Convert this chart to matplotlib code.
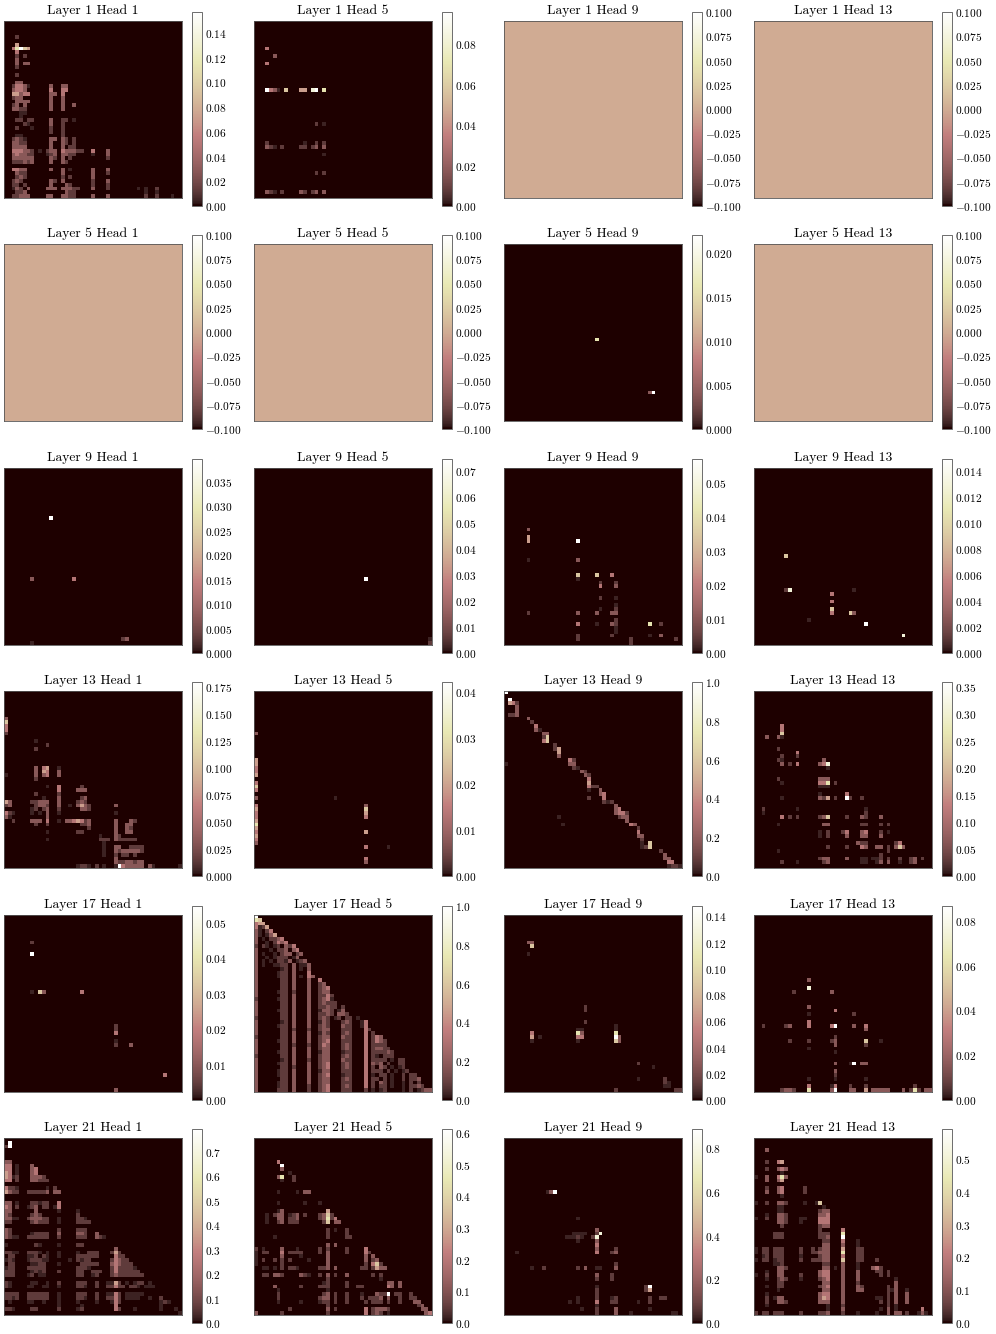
import numpy as np
import matplotlib
matplotlib.use('Agg')
import matplotlib.pyplot as plt

plt.rcParams['font.family'] = ['cmr10', 'DejaVu Serif']
plt.rcParams['mathtext.fontset'] = 'cm'
plt.rcParams['axes.formatter.use_mathtext'] = True
plt.rcParams['axes.unicode_minus'] = True

layers = [1, 5, 9, 13, 17, 21]
heads = [1, 5, 9, 13]
n_cells = 47

vmax = [
    [0.157, 0.096, None, None],
    [None, None, 0.022, None],
    [0.0397, 0.0746, 0.057, 0.0149],
    [0.1796, 0.0422, 1.0, 0.359],
    [0.0548, 1.0, 0.148, 0.0867],
    [0.794, 0.6126, 0.887, 0.591],
]

# share of the colorbar for each level used below
level_share = [0, 0.03, 0.085, 0.18, 0.32, 0.46, 0.6, 0.72, 0.86, 1]

# cell runs: (row, first column, levels), level 9 = top of the colorbar, space = 0
L1_H1 = [
    (4, 3, "2"), (6, 3, "5"), (7, 2, "47965"), (8, 3, "4"), (9, 3, "2 2"), (10, 3, "3"), (11, 3, "3 33"),
    (12, 3, "2"), (14, 3, "2"), (16, 3, "33"), (17, 2, "24431"), (17, 12, "3"), (17, 15, "33"),
    (18, 2, "3443"), (18, 12, "4"), (18, 15, "44"), (19, 2, "55344"), (19, 12, "33"), (19, 15, "4"),
    (20, 2, "233"), (20, 12, "3"), (20, 15, "3"), (21, 3, "3333"), (21, 12, "3"), (21, 15, "3"),
    (22, 2, "23 3"), (22, 12, "3"), (22, 15, "3"), (22, 18, "3"), (23, 2, "3322"), (23, 12, "3"), (23, 15, "3"),
    (24, 4, "11"), (25, 4, "1"), (26, 3, "22 22"), (26, 12, "3"), (26, 15, "22 1"), (27, 5, "21"), (27, 12, "3"),
    (27, 15, "2"), (28, 3, "2"), (28, 7, "1"), (28, 12, "2"), (28, 15, "2"), (29, 12, "2"), (29, 15, "2"),
    (30, 3, "11"), (30, 15, "2"), (31, 2, "2321"), (31, 12, "33"), (31, 15, "32 2"),
    (32, 2, "3322"), (32, 12, "3"), (32, 15, "32 2"), (33, 2, "3333"), (33, 12, "3"), (33, 15, "3 22"),
    (34, 2, "444332"), (34, 9, "1"), (34, 11, "233"), (34, 15, "433322"), (34, 23, "4"), (34, 27, "3"),
    (35, 2, "343322"), (35, 11, "123"), (35, 15, "3322"), (35, 23, "1"), (35, 27, "3"),
    (36, 2, "333333"), (36, 12, "32"), (36, 15, "3 2"), (36, 27, "2"),
    (37, 2, "222323"), (37, 12, "3"), (37, 15, "32"),
    (39, 2, "4433"), (39, 12, "3"), (39, 15, "3 1"), (39, 23, "3"), (39, 27, "3"),
    (40, 3, "322"), (40, 15, "3"), (40, 23, "3"), (40, 27, "2"),
    (41, 3, "232"), (41, 15, "2 2"), (41, 23, "3"),
    (42, 2, "232"), (42, 12, "32"), (42, 15, "3"), (42, 23, "2"), (42, 27, "3"),
    (43, 2, "22 2"), (43, 12, "3"), (43, 16, "32"), (43, 23, "2"), (43, 27, "2"),
    (44, 2, "132 3"), (44, 11, "333"), (44, 15, "33322"), (44, 23, "3"), (44, 27, "2"), (44, 35, "1 1  2"),
    (45, 3, "223"), (45, 16, "322"), (45, 37, "1"), (45, 40, "1"),
    (46, 2, "22333"), (46, 11, "33"), (46, 15, "3322"), (46, 23, "3"), (46, 27, "3"), (46, 37, "2"), (46, 40, "2"), (46, 44, "1"),
]
L1_H5 = [
    (7, 3, "4"), (9, 5, "3"), (11, 3, "4"), (18, 3, "9431 6"), (18, 12, "55"), (18, 15, "89"), (18, 18, "7"),
    (27, 16, "2 1"), (32, 3, "2"), (32, 13, "1"), (32, 16, "2 2"), (33, 3, "321 2"), (33, 12, "22"), (33, 15, "23"),
    (33, 18, "3"), (35, 18, "1"), (40, 16, "2 2"), (45, 3, "321 2"), (45, 12, "32"), (45, 15, "23"), (45, 18, "3"),
]
L5_H9 = [(25, 24, "7"), (39, 38, "39")]
L9_H1 = [(13, 12, "9"), (29, 7, "3"), (29, 18, "4"), (46, 7, "1"), (45, 31, "23")]
L9_H5 = [(29, 29, "9"), (45, 46, "1"), (46, 46, "2")]
L9_H9 = [
    (16, 6, "3"), (18, 6, "5"), (19, 6, "5"), (19, 19, "9"), (24, 6, "1"), (24, 19, "3"), (28, 19, "6"), (28, 24, "6"),
    (28, 28, "4"), (29, 19, "1"), (30, 25, "2"), (30, 29, "2"), (31, 25, "4"), (31, 29, "3"), (34, 25, "2"), (34, 29, "1"),
    (36, 29, "1"), (37, 25, "1"), (37, 29, "2"), (38, 6, "2"), (38, 19, "3"), (38, 24, "3"), (38, 28, "33"),
    (40, 29, "2"), (41, 19, "4"), (41, 24, "1"), (41, 28, "32"), (41, 38, "7"), (41, 41, "2"), (42, 29, "1"), (43, 29, "1"),
    (44, 19, "2"), (44, 28, "2"), (44, 38, "1"), (44, 41, "3"), (45, 19, "2"), (45, 33, "2"), (45, 45, "2"), (46, 33, "2"),
]
L9_H13 = [
    (23, 8, "6"), (32, 8, "28"), (32, 26, "1"), (33, 20, "4"), (35, 20, "4"), (37, 20, "6"), (38, 20, "4"),
    (38, 25, "63"), (40, 14, "1"), (41, 29, "9"), (44, 39, "8"),
]
L13_H1 = [
    (7, 0, "3"), (8, 0, "6"), (9, 0, "4"), (10, 0, "4"), (11, 0, "2"), (13, 8, "1"), (14, 11, "2"), (15, 8, "2"),
    (20, 8, "3 45"), (20, 14, "1"), (21, 8, "3 54"), (21, 14, "3"), (22, 0, "1"), (22, 8, "3 34"), (22, 14, "3"), (23, 8, "2"),
    (25, 11, "1"), (25, 14, "4"), (25, 20, "2"), (26, 14, "4"), (26, 19, "333"), (27, 8, "2"), (27, 14, "2"),
    (28, 10, "1"), (28, 14, "3"), (28, 20, "23"), (29, 0, "53"), (29, 7, "22333"), (29, 14, "3"), (29, 19, "232"),
    (30, 0, "23"), (30, 8, "2332"), (30, 14, "3"), (30, 17, "1 3532"), (30, 29, "3"),
    (31, 7, "12 23"), (31, 14, "2"), (31, 20, "332"), (32, 0, "421"), (32, 7, "1 1 3"), (32, 14, "1"), (32, 29, "1"),
    (33, 0, "31"), (33, 11, "3"), (34, 2, "2"), (34, 7, "333 4"), (34, 14, "1"), (34, 16, "3345423"), (34, 29, "3"), (34, 33, "32"),
    (35, 8, "2  2"), (35, 20, "223"), (35, 29, "3"), (35, 32, "33"), (36, 22, "2"), (36, 29, "3"), (36, 32, "32"),
    (37, 11, "1"), (37, 19, "22"), (37, 29, "3"), (37, 32, "33"), (38, 25, "1"), (38, 29, "32"),
    (39, 11, "1"), (39, 25, "222 322222"), (40, 26, "1"), (41, 26, "1"), (41, 29, "33  2222"),
    (42, 26, "1"), (42, 29, "32333332"), (43, 26, "1"), (43, 29, "2 22 2"), (44, 29, "3"), (45, 29, "32233233"),
    (46, 19, "1221 2 1  19433333 3"), (46, 39, "1"), (46, 46, "1"),
]
L13_H5 = [
    (11, 0, "3"), (18, 0, "5"), (19, 0, "5"), (20, 0, "4"), (21, 0, "4"), (22, 0, "5"), (24, 0, "4"), (25, 0, "6"),
    (26, 0, "4"), (28, 0, "3"), (28, 21, "1"), (30, 0, "4"), (30, 29, "3"), (31, 0, "5"), (31, 29, "6"), (32, 0, "4"),
    (32, 29, "5"), (33, 0, "4"), (33, 29, "4"), (34, 0, "5"), (35, 0, "7"), (36, 0, "5"), (37, 0, "4"), (37, 29, "5"),
    (38, 0, "5"), (39, 0, "4"), (40, 0, "3"), (41, 29, "4"), (41, 35, "1"), (44, 29, "4"), (45, 29, "3"),
]
L13_H9 = [
    (0, 0, "9"), (2, 1, "9"), (3, 1, "542"), (4, 3, "3"), (5, 3, "3"), (6, 1, "223"), (7, 6, "3"), (8, 7, "2"),
    (9, 8, "4"), (10, 8, "31"), (11, 10, "33"), (12, 10, "26"), (13, 10, "46"), (14, 13, "2"), (15, 13, "25"),
    (16, 14, "5"), (17, 14, "3"), (18, 17, "42"), (19, 0, "1"), (19, 17, "33"), (20, 18, "21"), (21, 20, "32"),
    (22, 21, "32"), (23, 22, "4"), (24, 22, "5"), (25, 22, "422"), (26, 22, "1  3"), (27, 25, "34"), (28, 22, "2"),
    (28, 26, "4"), (29, 26, "212"), (30, 29, "3"), (31, 29, "34"), (32, 29, "3442"), (33, 14, "1"), (33, 30, "233"),
    (34, 32, "3"), (35, 15, "1"), (35, 33, "43"), (36, 35, "2"), (37, 35, "4"), (38, 35, "33"), (39, 36, "2"),
    (40, 36, "1 6"), (41, 36, "126"), (42, 41, "2"), (43, 42, "3"), (44, 42, "33"), (45, 43, "44"), (46, 43, "1221"),
]
L13_H13 = [
    (9, 7, "4"), (10, 7, "4"), (11, 7, "6"), (12, 3, "3  31"), (15, 6, "2"), (16, 11, "4"), (17, 7, "2"), (17, 11, "2"),
    (18, 6, "21"), (18, 18, "3"), (19, 7, "3 2 4"), (19, 17, "348"), (20, 19, "1"), (23, 6, "2"), (23, 17, "333"),
    (24, 7, "1"), (24, 17, "447"), (24, 21, "2"), (25, 17, "111"), (27, 17, "1"), (27, 24, "4"),
    (28, 7, "1"), (28, 17, "325"), (28, 21, "2"), (28, 24, "92"), (28, 28, "2"), (31, 2, "2"), (31, 11, "1"), (31, 29, "1"),
    (32, 2, "1"), (32, 29, "2"), (33, 7, "4 2 2"), (33, 17, "236"), (33, 24, "2"), (33, 28, "32"), (33, 33, "3"),
    (35, 6, "1"), (35, 18, "33"), (35, 28, "22"), (35, 33, "2 2"), (37, 17, "1 2"), (37, 23, "24"), (37, 28, "34"),
    (37, 33, "2 1"), (38, 17, "1 2"), (38, 24, "3"), (38, 28, "33"), (38, 33, "3"), (40, 27, "322"), (40, 37, "24"),
    (41, 19, "2"), (41, 24, "2"), (41, 28, "43"), (41, 32, "33 2"), (41, 37, "363"), (42, 6, "1"), (42, 35, "2"), (43, 33, "2"),
    (44, 17, "233"), (44, 24, "3"), (44, 28, "11"), (44, 31, "112 2"), (44, 38, "2"), (44, 41, "23 2"),
    (45, 7, "2"), (45, 11, "1"), (45, 18, "23"), (45, 28, "11"), (45, 32, "13 3"), (45, 38, "1"), (45, 41, "23"),
]
L17_H1 = [
    (7, 7, "2"), (10, 7, "9"), (20, 7, "1 63"), (20, 20, "4"), (29, 29, "2"), (30, 29, "2"), (31, 29, "4"), (33, 29, "1"),
    (34, 29, "2"), (34, 33, "3"), (42, 42, "4"), (46, 29, "3"),
]
L17_H5 = [
    (0, 0, "9"), (1, 0, "76"), (2, 0, "455"), (3, 0, "4125"), (4, 0, "31 24"), (5, 0, "31 135"), (6, 0, "3 1 2234"),
    (7, 0, "3  1 2434"), (8, 0, "2 21 12 324"), (9, 0, "3   1 223 34"), (10, 0, "3 1  1 233 23"), (11, 0, "3  1 1222 13"),
    (12, 0, "3 1 1 2213 123"), (13, 0, "3 1  1122 3 113"), (14, 0, "3      12 3 1 3"), (15, 0, "3     122 3   4"),
    (16, 0, "3     122 3 1 43"), (17, 0, "3      22 3   3  4"), (18, 0, "3      22 3   3  23"), (19, 0, "3      22 3   3  234"),
    (20, 0, "3     122 2   3  233"), (21, 0, "3      22 3   3  2242"), (22, 0, "2     122 3   3  2341"),
    (23, 0, "3      22 3   3  23222"), (24, 0, "3      22 3   3  22322 2"), (25, 0, "3     122 3   3  1332 13"),
    (26, 0, "3      22 3   3  2232 332"), (27, 0, "2      22 3   3  232 12 22 1"),
    (28, 0, "3      12 3   3"), (28, 17, "132"), (28, 23, "232"), (28, 28, "14"),
    (29, 0, "3     122 3   3"), (29, 17, "232"), (29, 23, "322"), (29, 28, "14"),
    (30, 0, "3      22 2   2"), (30, 17, "233"), (30, 23, "222"), (30, 29, "42"),
    (31, 0, "3      22 3   3"), (31, 17, "132"), (31, 23, "232"), (31, 29, "4 2"),
    (32, 0, "2      22 3   3"), (32, 17, "233"), (32, 23, "322"), (32, 29, "4 243"),
    (33, 0, "3     122 3   3"), (33, 17, "234"), (33, 23, "222"), (33, 29, "4 2432"),
    (34, 0, "3      22 2   2"), (34, 17, "243"), (34, 23, "232"), (34, 29, "4 2222"),
    (35, 0, "3      22 3   3"), (35, 17, "233"), (35, 23, "232"), (35, 29, "4 23322"),
    (36, 0, "3     122 3   3"), (36, 17, "133"), (36, 23, "122"), (36, 29, "4 222232"),
    (37, 0, "2      22 3   3"), (37, 17, "233"), (37, 23, "232"), (37, 29, "4 21 222"),
    (38, 0, "3      12 3   2"), (38, 17, "233"), (38, 23, "322"), (38, 29, "4 2222 1 22"),
    (39, 0, "3     122 3   3"), (39, 17, "234"), (39, 23, "232"), (39, 29, "4 323 2  22"),
    (40, 0, "3      22 2   3"), (40, 17, "234"), (40, 23, "232"), (40, 29, "4 2 32 1 12"),
    (41, 0, "3     122 3   3"), (41, 17, "133"), (41, 23, "222"), (41, 29, "4 222 2 1 12"),
    (42, 0, "3     122 3   3"), (42, 17, "234"), (42, 23, "122"), (42, 29, "4 1 22 1  2 22"),
    (43, 0, "3      22 3   3"), (43, 17, "233"), (43, 23, "232"), (43, 29, "4 22 2 1  2 223"),
    (44, 0, "3     122 3   3"), (44, 17, "233"), (44, 23, "222"), (44, 29, "4 2 32 1  1 2 2"),
    (45, 0, "3     122 3   2"), (45, 17, "234"), (45, 23, "232"), (45, 29, "4 2 22 1  1 2232"),
    (46, 0, "3     222 3   2"), (46, 17, "234"), (46, 23, "222"), (46, 29, "2 1 12    1 2 1233"),
]
L17_H9 = [
    (7, 6, "33"), (8, 7, "6"), (10, 6, "1"), (24, 21, "2"), (25, 21, "2"), (28, 21, "2"), (29, 29, "1"), (30, 19, "11"),
    (30, 29, "1"), (31, 7, "4"), (31, 19, "73"), (31, 29, "7"), (32, 7, "5 1"), (32, 19, "44"), (32, 29, "93"), (33, 7, "1"),
    (33, 19, "1"), (33, 29, "63"), (39, 35, "2"), (40, 39, "1"), (43, 35, "1"), (43, 42, "2"), (44, 42, "21"), (45, 42, "11"),
    (46, 29, "2"), (46, 45, "22"),
]
L17_H13 = [
    (17, 14, "3"), (19, 14, "8"), (20, 10, "2"), (20, 20, "3"), (24, 14, "3"), (25, 21, "4"), (26, 14, "1"), (26, 26, "2"),
    (28, 14, "4"), (29, 2, "2"), (29, 8, "23"), (29, 14, "4"), (29, 20, "49"), (29, 26, "3"), (29, 29, "4"), (30, 29, "3"),
    (32, 21, "2"), (33, 9, "2"), (33, 14, "2"), (33, 20, "23"), (33, 29, "6"), (33, 33, "1"), (34, 21, "3"), (34, 29, "2"),
    (35, 14, "1"), (36, 21, "1"), (39, 21, "3"), (39, 25, "19 33"), (41, 21, "3"), (42, 21, "2"), (43, 14, "1"), (43, 21, "1"),
    (43, 29, "1"), (45, 14, "4"), (45, 20, "14"), (45, 25, "2"), (45, 29, "2"), (45, 42, "2"),
    (46, 7, "2332"), (46, 14, "7"), (46, 20, "39"), (46, 25, "33"), (46, 29, "5 33333"), (46, 39, "3 272"), (46, 45, "33"),
]
L21_H1 = [
    (1, 1, "9"), (2, 0, "29"), (6, 0, "33"), (7, 0, "44 1"), (7, 7, "3"), (8, 0, "44 1"), (8, 7, "34"), (9, 0, "54 1"), (9, 7, "34"),
    (10, 0, "5412"), (10, 7, "3332"), (11, 0, "44 2"), (11, 7, "33222"), (13, 0, "4221"), (13, 11, "1 2"),
    (14, 0, "5322"), (14, 6, "222223"), (14, 13, "33"), (17, 0, "33 1"), (17, 7, "221"), (17, 10, "22"), (17, 14, "4"),
    (18, 0, "43 2"), (18, 6, "123"), (18, 10, "22"), (18, 13, "14"), (19, 0, "33"), (19, 8, "3"), (19, 14, "1"), (19, 19, "1"),
    (20, 0, "32"), (20, 7, "232"), (20, 19, "2"), (21, 0, "3311"), (21, 6, "233322"), (21, 14, "1"), (21, 19, "221"),
    (22, 0, "22"), (22, 7, "23222"), (22, 14, "1"), (22, 19, "2222"), (24, 0, "32"), (24, 14, "2"), (24, 19, "222"),
    (25, 0, "32"), (25, 7, "12222"), (25, 14, "3"), (25, 19, "332"), (25, 24, "3"),
    (26, 0, "3211"), (26, 6, "222222"), (26, 14, "2"), (26, 19, "222"), (26, 24, "321"),
    (28, 0, "1"), (28, 8, "21"), (28, 14, "1"), (28, 19, "22"), (29, 29, "3"),
    (30, 0, "2211"), (30, 6, "2221 1"), (30, 14, "1"), (30, 19, "1"), (30, 22, "222"), (30, 28, "252"),
    (31, 1, "22"), (31, 6, "112 21"), (31, 14, "1"), (31, 19, "222222"), (31, 29, "422"),
    (32, 0, "121"), (32, 6, "122211"), (32, 17, "1 2122"), (32, 28, "24322"),
    (33, 1, "22"), (33, 7, "1122"), (33, 14, "1"), (33, 20, "22222"), (33, 28, "343222"),
    (34, 0, "122"), (34, 6, "22222"), (34, 19, "2221"), (34, 28, "2422221"),
    (35, 0, "222"), (35, 7, "1212"), (35, 14, "2"), (35, 19, "22"), (35, 23, "222"), (35, 28, "24222222"),
    (36, 0, "222"), (36, 6, "12 11"), (36, 19, "22"), (36, 23, "12"), (36, 28, "232222222"),
    (38, 0, "21"), (38, 7, "11  1"), (38, 14, "2"), (38, 19, "222"), (38, 24, "2"), (38, 27, "1152 1 122 1"),
    (39, 0, "21"), (39, 6, "11  11"), (39, 14, "1"), (39, 19, "221"), (39, 24, "2"), (39, 27, "22422 221 111"),
    (41, 0, "2222"), (41, 6, "222222"), (41, 14, "1"), (41, 19, "222"), (41, 24, "2"), (41, 27, "1142 11111"),
    (42, 0, "2212"), (42, 6, "222222"), (42, 14, "1"), (42, 19, "221"), (42, 24, "2"), (42, 27, "2242 1111"), (42, 38, "1"), (42, 41, "2"),
    (43, 1, "1"), (43, 6, "11  1"), (43, 14, "1"), (43, 19, "1"), (43, 24, "1"), (43, 28, "142"), (43, 41, "121"),
    (44, 14, "1"), (44, 20, "1"), (44, 29, "4"), (44, 41, "1"),
    (45, 0, "221"), (45, 7, "22"), (45, 14, "2"), (45, 19, "12"), (45, 29, "42"), (45, 34, "1"), (45, 41, "1"), (45, 45, "1"),
    (46, 46, "1"),
]
L21_H5 = [
    (6, 6, "4"), (7, 7, "9"), (8, 7, "3"), (9, 9, "1"), (10, 6, "37"), (10, 10, "2"), (11, 7, "1"), (11, 10, "2"),
    (14, 6, "1"), (14, 11, "1 33"), (17, 6, "1"), (17, 13, "1"), (17, 17, "1"), (19, 6, "13"), (19, 19, "5"),
    (20, 3, "1 233 123 2"), (20, 17, "2362"), (21, 3, "1  33 223"), (21, 17, "23724"), (22, 3, "1  23 222"), (22, 18, "26 33"),
    (24, 19, "2 1  2"), (25, 19, "2"), (25, 24, "2"), (26, 5, "1"), (26, 19, "2"), (26, 24, "22"), (28, 19, "3 3"),
    (29, 0, "2 1"), (29, 7, "3"), (29, 11, "1"), (29, 17, "2 2"), (29, 24, "2"), (29, 29, "4"),
    (30, 0, "1 22"), (30, 7, "4 2222"), (30, 17, "2 3"), (30, 24, "2"), (30, 29, "42"), (31, 0, "1"), (31, 7, "3"), (31, 12, "1"),
    (31, 19, "3"), (31, 29, "3 3"), (32, 0, "1 2  2 2 2"), (32, 14, "1"), (32, 19, "3"), (32, 29, "3 23"),
    (33, 0, "1"), (33, 7, "2"), (33, 19, "3"), (33, 29, "2 462"),
    (34, 2, "11 1 2 221"), (34, 17, "223 3"), (34, 28, "22 2533"),
    (36, 2, "22 3"), (36, 5, "332"), (36, 12, "321"), (36, 17, "2 3 2"), (36, 24, "3"), (36, 31, "2 2"),
    (37, 19, "2"), (37, 33, "1"), (38, 18, "12"), (38, 24, "2"), (38, 35, "33 3"),
    (39, 5, "3"), (39, 12, "2"), (39, 17, "222"), (39, 24, "2"), (39, 27, "22"), (39, 35, "43 3"), (40, 6, "1"), (40, 19, "1"),
    (41, 6, "2"), (41, 18, "23 2"), (41, 24, "2"), (41, 28, "1"), (41, 32, "3229"), (41, 37, "22"), (41, 41, "2"),
    (42, 6, "2"), (42, 17, "233 2"), (42, 24, "2"), (42, 28, "2 2223"), (42, 35, "3"), (42, 38, "2"), (42, 41, "22"),
    (43, 6, "1"), (43, 12, "1"), (43, 17, "122 2"), (43, 24, "2"), (43, 29, "2 222 2"), (43, 38, "2"), (43, 42, "33"),
    (44, 19, "2"), (44, 43, "23"), (45, 9, "2"), (45, 19, "3 2"), (45, 29, "4 23332"), (45, 44, "33"),
    (46, 0, "3"), (46, 7, "2"), (46, 19, "2"), (46, 29, "4 232 1"), (46, 45, "34"),
]
L21_H9 = [
    (14, 11, "139"), (21, 19, "1"), (24, 24, "3"), (25, 18, "1111  28"), (26, 16, "11121"), (26, 23, "28"), (27, 19, "1"), (27, 24, "3"),
    (28, 24, "4"), (29, 24, "3"), (29, 29, "2"), (30, 3, "1"), (30, 24, "4"), (30, 28, "23"), (33, 29, "2"), (34, 7, "1  2"),
    (34, 19, "2 3  11"), (34, 29, "3"), (36, 24, "3"), (36, 28, "2"), (37, 24, "2"), (37, 28, "2"), (39, 24, "1"), (39, 37, "29"),
    (40, 24, "2"), (40, 37, "25"), (41, 24, "2"), (42, 19, "1"), (42, 24, "2"), (42, 28, "12"), (42, 38, "2"), (42, 41, "22"),
    (43, 17, "1 1"), (43, 24, "4"), (43, 28, "22"), (43, 35, "1"), (43, 38, "2"), (44, 24, "1"), (45, 20, "1"), (45, 24, "2"),
    (45, 29, "3"), (45, 38, "1"), (46, 24, "2"), (46, 29, "3"), (46, 33, "1"), (46, 44, "11"),
]
L21_H13 = [
    (3, 3, "3"), (6, 3, "2"), (6, 6, "45"), (8, 3, "2"), (8, 6, "343"), (9, 7, "1"), (10, 0, "1"), (10, 3, "3"), (10, 6, "473"),
    (11, 3, "3"), (11, 6, "35"), (13, 3, "2"), (13, 6, "34"), (13, 13, "2"), (14, 3, "3"), (14, 6, "34"), (14, 13, "2"), (15, 7, "1"),
    (17, 0, "1"), (17, 3, "2"), (17, 6, "332"), (17, 13, "1"), (17, 16, "16"), (18, 6, "11"), (18, 18, "1"), (19, 6, "11"), (19, 17, "233"),
    (20, 3, "1"), (20, 6, "332"), (20, 17, "334"), (21, 0, "1"), (21, 3, "2"), (21, 6, "332"), (21, 12, "11"), (21, 17, "444"),
    (22, 6, "332"), (22, 12, "1"), (22, 17, "444"), (23, 7, "2"), (23, 17, "233"), (24, 17, "2"), (24, 23, "4"),
    (25, 5, "222"), (25, 17, "222"), (25, 23, "7"), (26, 5, "222"), (26, 17, "223"), (26, 23, "9"), (27, 18, "22"), (27, 23, "4"), (27, 27, "1"),
    (28, 18, "33"), (28, 23, "3"), (28, 27, "1"), (29, 0, "1 22"), (29, 5, "222"), (29, 12, "2"), (29, 15, "2 233"), (29, 23, "5"), (29, 27, "22"),
    (30, 0, "1 22"), (30, 5, "222"), (30, 12, "2"), (30, 15, "22333"), (30, 23, "7"), (30, 27, "22"),
    (31, 2, "12"), (31, 5, "222"), (31, 12, "1"), (31, 17, "233"), (31, 23, "4"), (31, 27, "22"),
    (32, 0, "1 22"), (32, 5, "122"), (32, 12, "2"), (32, 15, "22233"), (32, 23, "6"), (32, 27, "22"), (32, 32, "2"),
    (33, 5, "112"), (33, 18, "22"), (33, 23, "3"), (33, 27, "1"), (34, 6, "332"), (34, 18, "33"), (34, 21, "1 3"), (34, 27, "1"), (34, 31, "342"),
    (35, 3, "1"), (35, 6, "33"), (35, 17, "344"), (35, 23, "3"), (35, 27, "3"), (35, 32, "22"), (35, 35, "2"),
    (36, 0, "1"), (36, 3, "2"), (36, 6, "33"), (36, 12, "2"), (36, 17, "344"), (36, 23, "3"), (36, 27, "3"), (36, 33, "2"), (36, 35, "2"),
    (37, 3, "1"), (37, 6, "232"), (37, 12, "1"), (37, 17, "234"), (37, 23, "3"), (37, 27, "3"), (37, 37, "1"),
    (38, 6, "22"), (38, 18, "33"), (38, 23, "3"), (38, 27, "2"), (38, 37, "3"),
    (39, 3, "1"), (39, 6, "22"), (39, 17, "234"), (39, 23, "3"), (39, 27, "32"), (39, 35, "2 3"),
    (40, 6, "1"), (40, 18, "33"), (40, 23, "3"), (40, 27, "33"), (40, 35, "213"), (40, 40, "1"),
    (41, 3, "1"), (41, 17, "344"), (41, 23, "3"), (41, 35, "2 3"), (41, 40, "3"),
    (42, 3, "2"), (42, 5, "133"), (42, 17, "354"), (42, 23, "3"), (42, 32, "11 2 3"), (42, 40, "3"),
    (43, 3, "2"), (43, 6, "332"), (43, 17, "333"), (43, 23, "3"), (43, 33, "2 2 3"), (43, 40, "3"),
    (44, 3, "1"), (44, 19, "1"), (44, 23, "2"), (44, 35, "2 1"), (45, 19, "1"), (45, 23, "3"), (45, 33, "1 3 1"), (45, 44, "4"),
    (46, 0, "2 22 222"), (46, 12, "2"), (46, 17, "223"), (46, 23, "2"), (46, 27, "1"), (46, 32, "1"), (46, 35, "3 33 2"), (46, 43, "131"),
]

panels = [
    [L1_H1, L1_H5, [], []],
    [[], [], L5_H9, []],
    [L9_H1, L9_H5, L9_H9, L9_H13],
    [L13_H1, L13_H5, L13_H9, L13_H13],
    [L17_H1, L17_H5, L17_H9, L17_H13],
    [L21_H1, L21_H5, L21_H9, L21_H13],
]


def make_grid(runs, top):
    grid = np.zeros((n_cells, n_cells))
    for row, col, levels in runs:
        for i, ch in enumerate(levels):
            if ch != ' ':
                grid[row, col + i] = level_share[int(ch)] * top
    return grid


W, H = 996, 1334
fig = plt.figure(figsize=(W / 100, H / 100), dpi=100)
tops = [21, 244, 468, 691, 915, 1138]
lefts = [4, 254, 504, 754]
edge = '#555555'

for i, layer in enumerate(layers):
    for j, head in enumerate(heads):
        x, y = lefts[j], tops[i]
        ax = fig.add_axes([x / W, 1 - (y + 177.3) / H, 177.6 / W, 177.3 / H])
        top = vmax[i][j]
        if top is None:
            im = ax.imshow(np.zeros((n_cells, n_cells)), cmap='pink', vmin=-0.1, vmax=0.1,
                           aspect='auto', interpolation='nearest')
        else:
            im = ax.imshow(make_grid(panels[i][j], top), cmap='pink', vmin=0, vmax=top,
                           aspect='auto', interpolation='nearest')
        ax.set_xticks([])
        ax.set_yticks([])
        for s in ax.spines.values():
            s.set_linewidth(0.6)
            s.set_color(edge)
        ax.set_title(f'Layer {layer} Head {head}', fontsize=9.8, pad=5.2)

        cax = fig.add_axes([(x + 188.2) / W, 1 - (y + 185) / H, 10 / W, 194 / H])
        cb = fig.colorbar(im, cax=cax)
        cb.ax.tick_params(length=0, pad=2, labelsize=8.2)
        cb.outline.set_linewidth(0.6)
        cb.outline.set_edgecolor(edge)

fig.savefig('out.png', dpi=100)
